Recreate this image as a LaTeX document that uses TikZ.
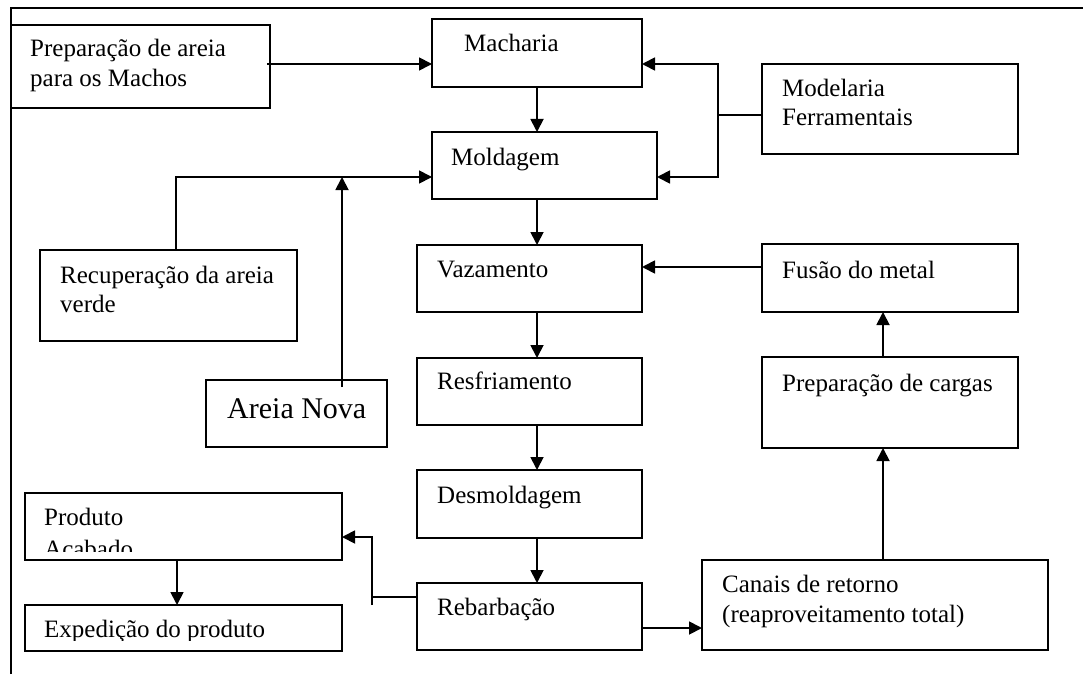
\documentclass[tikz,border=0pt]{standalone}
\usepackage{fontspec}
\setmainfont{Liberation Serif}
\usetikzlibrary{arrows.meta}
\newcommand\mybox[5]{\node[box, minimum width={#4-#2}, minimum height={#5-#3}] (#1) at (#2,#3) {};}
\begin{document}
\begin{tikzpicture}[x=1pt,y=-1pt,
  box/.style={draw, line width=1.8pt, inner sep=0pt, outer sep=0pt, anchor=north west},
  txt/.style={anchor=base west, inner sep=0pt, font=\fontsize{25}{30}\selectfont},
  bigtxt/.style={anchor=base west, inner sep=0pt, font=\fontsize{30}{36}\selectfont},
  ln/.style={line width=1.8pt},
  arr/.style={line width=1.8pt, -{Triangle[length=13pt,width=13pt]}}]
\useasboundingbox (0,0) rectangle (1083,674);
% frame
\coordinate (fa) at (11,674);
\coordinate (fb) at (11,8);
\coordinate (fc) at (1083,8);
\draw[line width=1.5pt] (fa) -- (fb) -- (fc);
% boxes
\mybox{prep}{11}{25}{270}{108}
\mybox{macharia}{432}{19}{642}{87}
\mybox{moldagem}{432}{132}{657}{199}
\mybox{modelaria}{762}{64}{1018}{154}
\mybox{recup}{40}{250}{297}{341}
\mybox{areia}{206}{380}{387}{447}
\mybox{vaz}{417}{245}{642}{312}
\mybox{resf}{417}{358}{642}{425}
\mybox{desm}{417}{470}{642}{538}
\mybox{reb}{417}{583}{642}{650}
\mybox{fusao}{762}{244}{1018}{312}
\mybox{cargas}{762}{357}{1018}{448}
\mybox{canais}{702}{560}{1048}{650}
\mybox{produto}{25}{493}{342}{560}
\mybox{exped}{25}{605}{342}{651}
% texts
\node[txt] (prep-t1) at (30,57) {Preparação de areia};
\node[txt] (prep-t2) at (30,87) {para os Machos};
\node[txt] (macharia-t) at (464,52) {Macharia};
\node[txt] (moldagem-t) at (451,165) {Moldagem};
\node[txt] (modelaria-t1) at (782,96) {Modelaria};
\node[txt] (modelaria-t2) at (782,125) {Ferramentais};
\node[txt] (recup-t1) at (60,283) {Recuperação da areia};
\node[txt] (recup-t2) at (60,312) {verde};
\node[bigtxt] (areia-t) at (227,418) {Areia Nova};
\node[txt] (vaz-t) at (437,277) {Vazamento};
\node[txt] (resf-t) at (437,389) {Resfriamento};
\node[txt] (desm-t) at (437,503) {Desmoldagem};
\node[txt] (reb-t) at (437,615) {Rebarbação};
\node[txt] (fusao-t) at (782,278) {Fusão do metal};
\node[txt] (cargas-t) at (782,391) {Preparação de cargas};
\node[txt] (canais-t1) at (722,592) {Canais de retorno};
\node[txt] (canais-t2) at (722,622) {(reaproveitamento total)};
\node[txt] (produto-t1) at (44,525) {Produto};
\begin{scope}
\clip (25,493) rectangle (342,551);
\node[txt] (produto-t2) at (44,557) {Acabado};
\end{scope}
\begin{scope}
\clip (25,605) rectangle (342,640);
\node[txt] (exped-t) at (44,637) {Expedição do produto};
\end{scope}
% connectors
\coordinate (c1) at (267,64);
\draw[arr] (c1) -- (c1 -| macharia.west);
\coordinate (ax) at (537,0);
\draw[arr] (ax |- macharia.south) -- (ax |- moldagem.north);
\draw[arr] (ax |- moldagem.south) -- (ax |- vaz.north);
\draw[arr] (ax |- vaz.south) -- (ax |- resf.north);
\draw[arr] (ax |- resf.south) -- (ax |- desm.north);
\draw[arr] (ax |- desm.south) -- (ax |- reb.north);
% modelaria
\coordinate (m1) at (718,115);
\coordinate (mtop) at (718,64);
\coordinate (mbot) at (718,177);
\draw[ln] (m1 -| modelaria.west) -- (m1);
\draw[arr] (m1) -- (mtop) -- (mtop -| macharia.east);
\draw[arr] (m1) -- (mbot) -- (mbot -| moldagem.east);
% recuperacao / areia nova
\coordinate (r1) at (176,177);
\draw[arr] (r1 |- recup.north) -- (r1) -- (r1 -| moldagem.west);
\coordinate (a1) at (342,387);
\draw[arr] (a1) -- (a1 |- r1);
% fusao, cargas, canais
\coordinate (f1) at (762,267);
\draw[arr] (f1) -- (f1 -| vaz.east);
\coordinate (cx) at (883,0);
\draw[arr] (cx |- cargas.north) -- (cx |- fusao.south);
\draw[arr] (cx |- canais.north) -- (cx |- cargas.south);
\coordinate (rb) at (642,628);
\draw[arr] (rb) -- (rb -| canais.west);
% rebarbacao -> produto
\coordinate (p1) at (372,597);
\coordinate (p2) at (372,605);
\coordinate (p3) at (372,537);
\draw[ln] (p1 -| reb.west) -- (p1);
\draw[arr] (p2) -- (p3) -- (p3 -| produto.east);
\coordinate (e1) at (177,0);
\draw[arr] (e1 |- produto.south) -- (e1 |- exped.north);
\end{tikzpicture}
\end{document}
